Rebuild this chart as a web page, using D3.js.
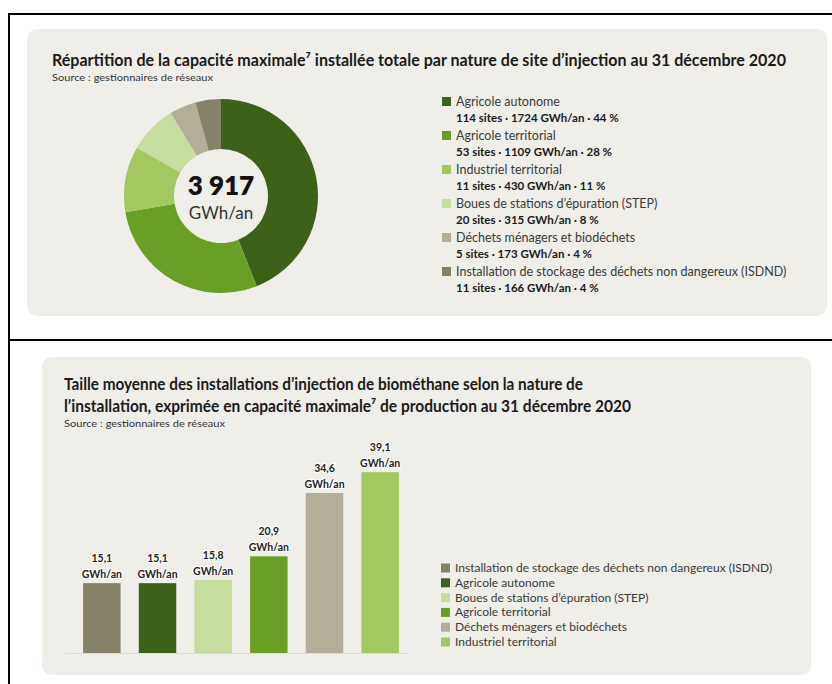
<!DOCTYPE html>
<html>
<head>
<meta charset="utf-8">
<script src="https://cdn.jsdelivr.net/npm/d3@7"></script>
<style>
  html, body { margin: 0; padding: 0; background: #ffffff; }
  svg { display: block; }
  text { font-family: Lato, "Open Sans", "Noto Sans", "DejaVu Sans", sans-serif; }
</style>
</head>
<body>
<svg id="chart" width="832" height="684"></svg>
<script>
// ---------- DATA ----------
const donutCategories = [
  "Agricole autonome",
  "Agricole territorial",
  "Industriel territorial",
  "Boues de stations d’épuration (STEP)",
  "Déchets ménagers et biodéchets",
  "Installation de stockage des déchets non dangereux (ISDND)"
];
const donutValues = [1724, 1109, 430, 315, 173, 166];
const donutSites = [114, 53, 11, 20, 5, 11];
const donutPercents = [44, 28, 11, 8, 4, 4];

const barCategories = [
  "Installation de stockage des déchets non dangereux (ISDND)",
  "Agricole autonome",
  "Boues de stations d’épuration (STEP)",
  "Agricole territorial",
  "Déchets ménagers et biodéchets",
  "Industriel territorial"
];
const barValues = [15.1, 15.1, 15.8, 20.9, 34.6, 39.1];
const unitLabel = "GWh/an";

const categoryColors = {
  "Agricole autonome": "#3d6119",
  "Agricole territorial": "#67a024",
  "Industriel territorial": "#a3c860",
  "Boues de stations d’épuration (STEP)": "#c6dd9f",
  "Déchets ménagers et biodéchets": "#b2ae99",
  "Installation de stockage des déchets non dangereux (ISDND)": "#868169"
};

// ---------- SETUP ----------
const fr = d3.formatLocale({decimal: ",", thousands: " ", grouping: [3], currency: ["", " €"]});
const fmtDec = fr.format(".1f");
const fmtInt = fr.format(",d");

const svg = d3.select("#chart");
const panelFill = "#efeee9";

// frame lines
svg.append("line").attr("x1", 8).attr("x2", 832).attr("y1", 14).attr("y2", 14)
  .attr("stroke", "#000").attr("stroke-width", 2);
svg.append("line").attr("x1", 9).attr("x2", 9).attr("y1", 13).attr("y2", 684)
  .attr("stroke", "#000").attr("stroke-width", 2);
svg.append("line").attr("x1", 8).attr("x2", 832).attr("y1", 340).attr("y2", 340)
  .attr("stroke", "#000").attr("stroke-width", 2);

// panels
svg.append("rect").attr("x", 27).attr("y", 29).attr("width", 800).attr("height", 287)
  .attr("rx", 10).attr("fill", panelFill);
svg.append("rect").attr("x", 42).attr("y", 357).attr("width", 769).attr("height", 318)
  .attr("rx", 10).attr("fill", panelFill);

function addTitle(x, y, str, len, size) {
  return svg.append("text").attr("x", x).attr("y", y)
    .attr("font-size", size).attr("font-weight", 700).attr("fill", "#1b1b1b")
    .attr("textLength", len).attr("lengthAdjust", "spacingAndGlyphs")
    .text(str);
}
function addSource(x, y, len) {
  svg.append("text").attr("x", x).attr("y", y).attr("font-size", 10)
    .attr("fill", "#333").attr("textLength", len).attr("lengthAdjust", "spacingAndGlyphs")
    .text("Source : gestionnaires de réseaux");
}

// ---------- TOP: DONUT ----------
addTitle(52, 66,
  "Répartition de la capacité maximale⁷ installée totale par nature de site d’injection au 31 décembre 2020",
  734, 17);
addSource(52, 81, 161);

const donutData = donutCategories.map((c, i) => ({
  cat: c, value: donutValues[i], sites: donutSites[i], pct: donutPercents[i]
}));
const pie = d3.pie().sort(null).value(d => d.value);
const arc = d3.arc().innerRadius(47).outerRadius(97);
const gDonut = svg.append("g").attr("transform", "translate(221,196)");
gDonut.selectAll("path").data(pie(donutData)).join("path")
  .attr("d", arc).attr("fill", d => categoryColors[d.data.cat]);

const total = d3.sum(donutValues);
gDonut.append("text").attr("text-anchor", "middle").attr("y", -1)
  .attr("font-size", 26).attr("font-weight", 800).attr("fill", "#111")
  .text(fmtInt(total));
gDonut.append("text").attr("text-anchor", "middle").attr("y", 23)
  .attr("font-size", 17).attr("fill", "#333").text(unitLabel);

const legTop = svg.append("g");
const legRow = 34;
donutData.forEach((d, i) => {
  const y0 = 102 + i * legRow;
  legTop.append("rect").attr("x", 442).attr("y", y0 - 5).attr("width", 9).attr("height", 9)
    .attr("fill", categoryColors[d.cat]);
  legTop.append("text").attr("x", 456).attr("y", y0 + 4).attr("font-size", 12.5)
    .attr("fill", "#3a3a3a").text(d.cat);
  legTop.append("text").attr("x", 456).attr("y", y0 + 20).attr("font-size", 11.5)
    .attr("font-weight", 700).attr("fill", "#1a1a1a")
    .text(`${d.sites} sites · ${d.value} ${unitLabel} · ${d.pct} %`);
});

// ---------- BOTTOM: BARS ----------
addTitle(64, 390,
  "Taille moyenne des installations d’injection de biométhane selon la nature de",
  519, 17);
addTitle(64, 412,
  "l’installation, exprimée en capacité maximale⁷ de production au 31 décembre 2020",
  567, 17);
addSource(64, 427, 161);

const x = d3.scaleBand().domain(barCategories).range([74, 408])
  .paddingInner(0.327).paddingOuter(0.1635);
const y = d3.scaleLinear().domain([0, 40]).range([653, 468]);

const barData = barCategories.map((c, i) => ({cat: c, value: barValues[i]}));
const gBars = svg.append("g");
gBars.selectAll("rect").data(barData).join("rect")
  .attr("x", d => x(d.cat)).attr("y", d => y(d.value))
  .attr("width", x.bandwidth()).attr("height", d => y(0) - y(d.value))
  .attr("fill", d => categoryColors[d.cat]);

// baseline
svg.append("line").attr("x1", 65).attr("x2", 408).attr("y1", y(0) + 0.5).attr("y2", y(0) + 0.5)
  .attr("stroke", "#dcdbd3").attr("stroke-width", 1.2);

const lbl = gBars.selectAll("g.lbl").data(barData).join("g").attr("class", "lbl")
  .attr("transform", d => `translate(${x(d.cat) + x.bandwidth() / 2},${y(d.value)})`);
lbl.append("text").attr("text-anchor", "middle").attr("y", -21)
  .attr("font-family", "DejaVu Sans, sans-serif")
  .attr("font-size", 10.5).attr("font-weight", 700).attr("fill", "#222")
  .attr("stroke", "#fff").attr("stroke-width", 2).attr("paint-order", "stroke")
  .text(d => fmtDec(d.value));
lbl.append("text").attr("text-anchor", "middle").attr("y", -5)
  .attr("font-family", "DejaVu Sans, sans-serif")
  .attr("font-size", 10.5).attr("font-weight", 700).attr("fill", "#222")
  .attr("stroke", "#fff").attr("stroke-width", 2).attr("paint-order", "stroke")
  .text(unitLabel);

const legBot = svg.append("g");
barCategories.forEach((c, i) => {
  const y0 = 568 + i * 14.8;
  legBot.append("rect").attr("x", 441).attr("y", y0 - 4.5).attr("width", 9).attr("height", 9)
    .attr("fill", categoryColors[c]);
  legBot.append("text").attr("x", 455).attr("y", y0 + 4).attr("font-size", 12)
    .attr("fill", "#3a3a3a").text(c);
});
</script>
</body>
</html>
